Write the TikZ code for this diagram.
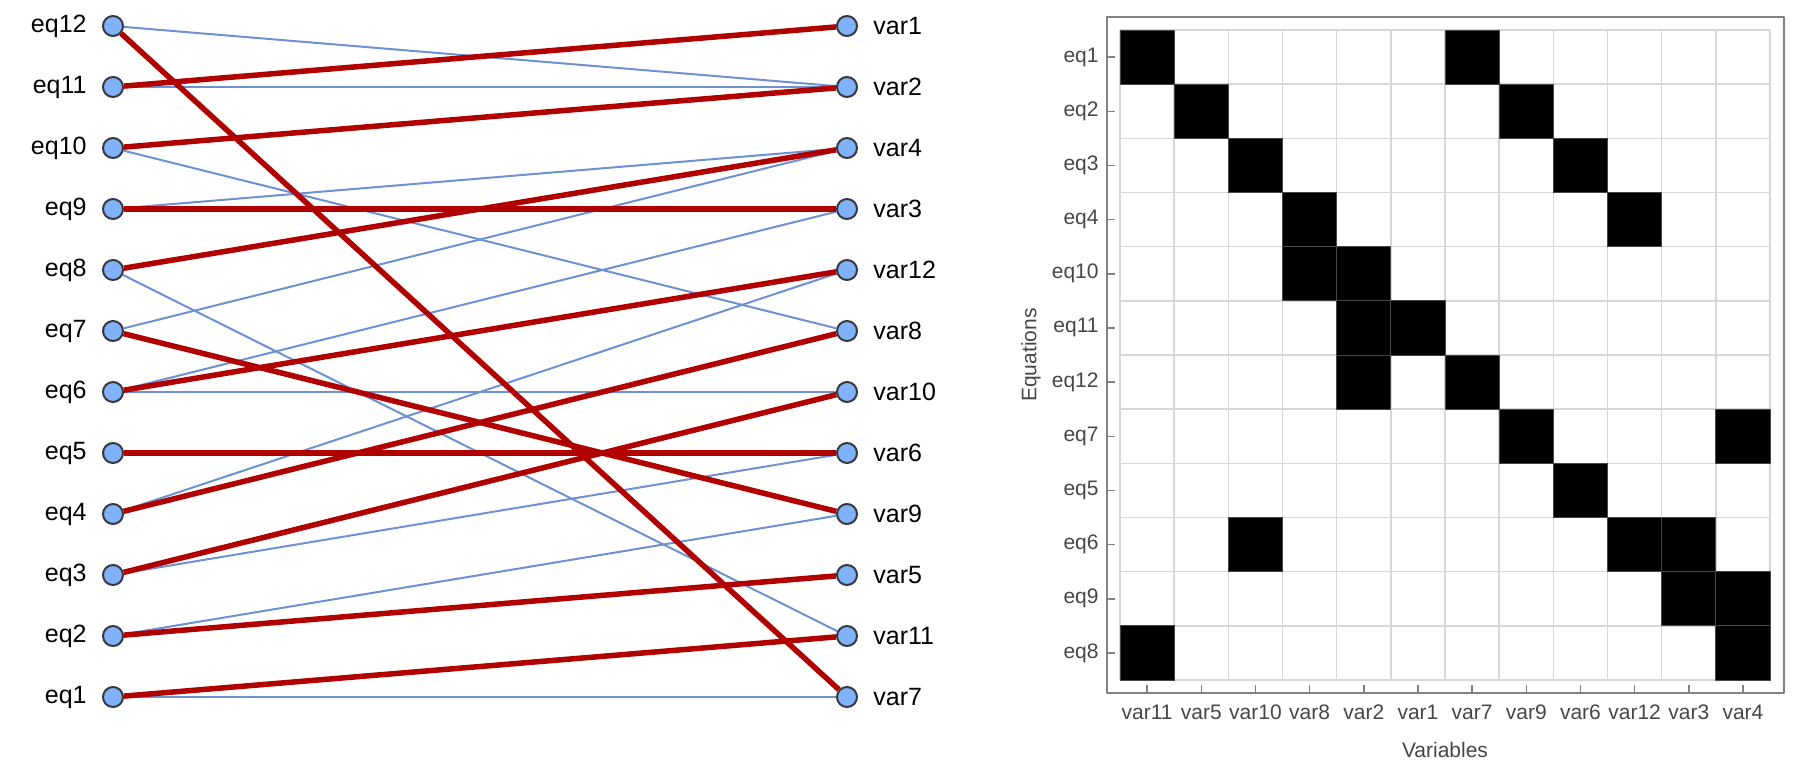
\documentclass[tikz,border=0pt]{standalone}
\usepackage{fontspec}
\setmainfont{Liberation Sans}
\definecolor{vtxfill}{RGB}{128,178,250}
\definecolor{vtxline}{RGB}{55,55,60}
\definecolor{edgeblue}{RGB}{110,145,210}
\definecolor{matchred}{RGB}{176,0,0}
\definecolor{framegray}{RGB}{130,130,130}
\definecolor{gridgray}{RGB}{215,215,215}
\definecolor{txtgray}{RGB}{70,70,70}
\begin{document}
\begin{tikzpicture}[x=0.5pt, y=-0.5pt, line join=round,
    vtx/.style={circle, draw=vtxline, fill=vtxfill, line width=1pt, minimum size=10pt, inner sep=0pt},
    lbl/.style={inner sep=0pt, font=\fontsize{12.5}{14}\selectfont},
    every label/.style={lbl}, label distance=7.5pt,
    looseedge/.style={draw=edgeblue, line width=1pt},
    matchedge/.style={draw=matchred, line width=2.75pt},
    gridline/.style={draw=gridgray, line width=0.75pt},
    cell/.style={fill=black, draw=txtgray, line width=0.5pt},
    tickline/.style={draw=framegray, line width=0.75pt},
    ticklbl/.style={inner sep=0pt, text=txtgray, font=\fontsize{10.5}{12}\selectfont}]
\useasboundingbox (0,0) rectangle (1800,772);
% bipartite graph
\foreach \n [count=\i from 0] in {12,11,10,9,8,7,6,5,4,3,2,1}
    \node[vtx, label=left:eq\n] (eq\n) at (113,26+61*\i) {};
\foreach \n [count=\i from 0] in {1,2,4,3,12,8,10,6,9,5,11,7}
    \node[vtx, label=right:var\n] (var\n) at (847,26+61*\i) {};
\foreach \a/\b in {1/7, 2/9, 3/6, 4/12, 6/10, 6/3, 7/4, 8/11, 9/4, 10/8, 11/2, 12/2}
    \draw[looseedge] (eq\a) -- (var\b);
\foreach \a/\b in {1/11, 2/5, 3/10, 4/8, 5/6, 6/12, 7/9, 8/4, 9/3, 10/2, 11/1, 12/7}
    \draw[matchedge] (eq\a) -- (var\b);
% incidence matrix
\foreach \k in {0,...,12} {
    \draw[gridline] (1120+54.17*\k,30) -- ++(0,650);
    \draw[gridline] (1120,30+54.17*\k) -- ++(650,0);
}
\foreach \r/\c in {0/0, 0/6, 1/1, 1/7, 2/2, 2/8, 3/3, 3/9, 4/3, 4/4, 5/4, 5/5, 6/4, 6/6,
    7/7, 7/11, 8/8, 9/2, 9/9, 9/10, 10/10, 10/11, 11/0, 11/11}
    \draw[cell] (1120+54.17*\c,30+54.17*\r) rectangle ++(54.17,54.17);
\draw[tickline] (1107,17) rectangle (1784,693);
\foreach \e [count=\i from 0] in {eq1,eq2,eq3,eq4,eq10,eq11,eq12,eq7,eq5,eq6,eq9,eq8} {
    \draw[tickline] (1107,57.08+54.17*\i) -- ++(8,0);
    \node[ticklbl, anchor=east] (row\i) at (1099,57.08+54.17*\i) {\e};
}
\foreach \v [count=\i from 0] in {var11,var5,var10,var8,var2,var1,var7,var9,var6,var12,var3,var4} {
    \draw[tickline] (1147.08+54.17*\i,693) -- ++(0,-8);
    \node[ticklbl] (col\i) at (1147.08+54.17*\i,712) {\v};
}
\node[ticklbl] (xlab) at (1445,750) {Variables};
\node[ticklbl, rotate=90] (ylab) at (1031,355) {Equations};
\end{tikzpicture}
\end{document}
